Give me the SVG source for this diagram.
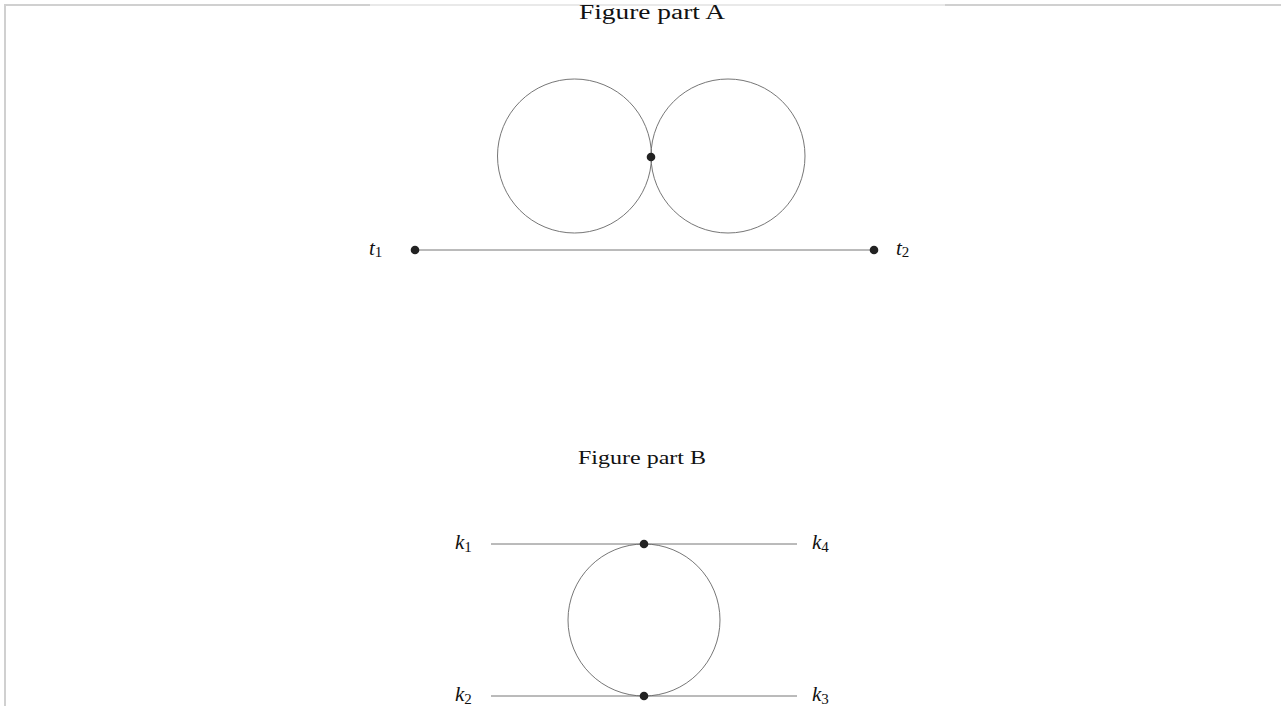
<svg xmlns="http://www.w3.org/2000/svg" width="1281" height="706" viewBox="0 0 1281 706">
<style>
.title{font-family:"Liberation Serif",serif;fill:#111}
.lab{font-family:"Liberation Serif",serif;font-size:21px;font-style:italic;fill:#111}
.sub{font-family:"Liberation Serif",serif;font-size:15px;font-style:normal;fill:#111}
.edge{stroke:#666;stroke-width:0.9;fill:none}
.dot{fill:#222}
</style>
<rect width="1281" height="706" fill="#fff"/>
<g id="frame">
<line x1="4" y1="5" x2="370" y2="5" stroke="#d0d0d0" stroke-width="2"/>
<line x1="370" y1="5" x2="945" y2="5" stroke="#e2e2e2" stroke-width="1.5"/>
<line x1="945" y1="5" x2="1281" y2="5" stroke="#d0d0d0" stroke-width="2"/>
<line x1="5" y1="4" x2="5" y2="706" stroke="#d0d0d0" stroke-width="2"/>
</g>
<text class="title" x="579" y="19" font-size="20" textLength="146" lengthAdjust="spacingAndGlyphs">Figure part A</text>
<text class="title" x="578" y="464" font-size="18" textLength="128" lengthAdjust="spacingAndGlyphs">Figure part B</text>
<g id="connectors">
<circle class="edge" cx="574.5" cy="156" r="77"/>
<circle class="edge" cx="728" cy="156" r="77"/>
<line class="edge" x1="415" y1="250" x2="874" y2="250"/>
<circle class="edge" cx="644" cy="620" r="76"/>
<line class="edge" x1="491" y1="544" x2="797" y2="544"/>
<line class="edge" x1="491" y1="696" x2="797" y2="696"/>
</g>
<g id="vA"><circle class="dot" cx="651" cy="157" r="4.3"/></g>
<g id="t1"><circle class="dot" cx="415" cy="250" r="4.3"/><text class="lab" x="369" y="255">t<tspan class="sub" dy="2">1</tspan></text></g>
<g id="t2"><circle class="dot" cx="874" cy="250" r="4.3"/><text class="lab" x="896" y="255">t<tspan class="sub" dy="2">2</tspan></text></g>
<g id="vB1"><circle class="dot" cx="644" cy="544" r="4.3"/></g>
<g id="vB2"><circle class="dot" cx="644" cy="696" r="4.3"/></g>
<g id="k1"><text class="lab" x="455" y="549">k<tspan class="sub" dy="3">1</tspan></text></g>
<g id="k4"><text class="lab" x="812" y="549">k<tspan class="sub" dy="3">4</tspan></text></g>
<g id="k2"><text class="lab" x="455" y="701">k<tspan class="sub" dy="3">2</tspan></text></g>
<g id="k3"><text class="lab" x="812" y="701">k<tspan class="sub" dy="3">3</tspan></text></g>
</svg>
